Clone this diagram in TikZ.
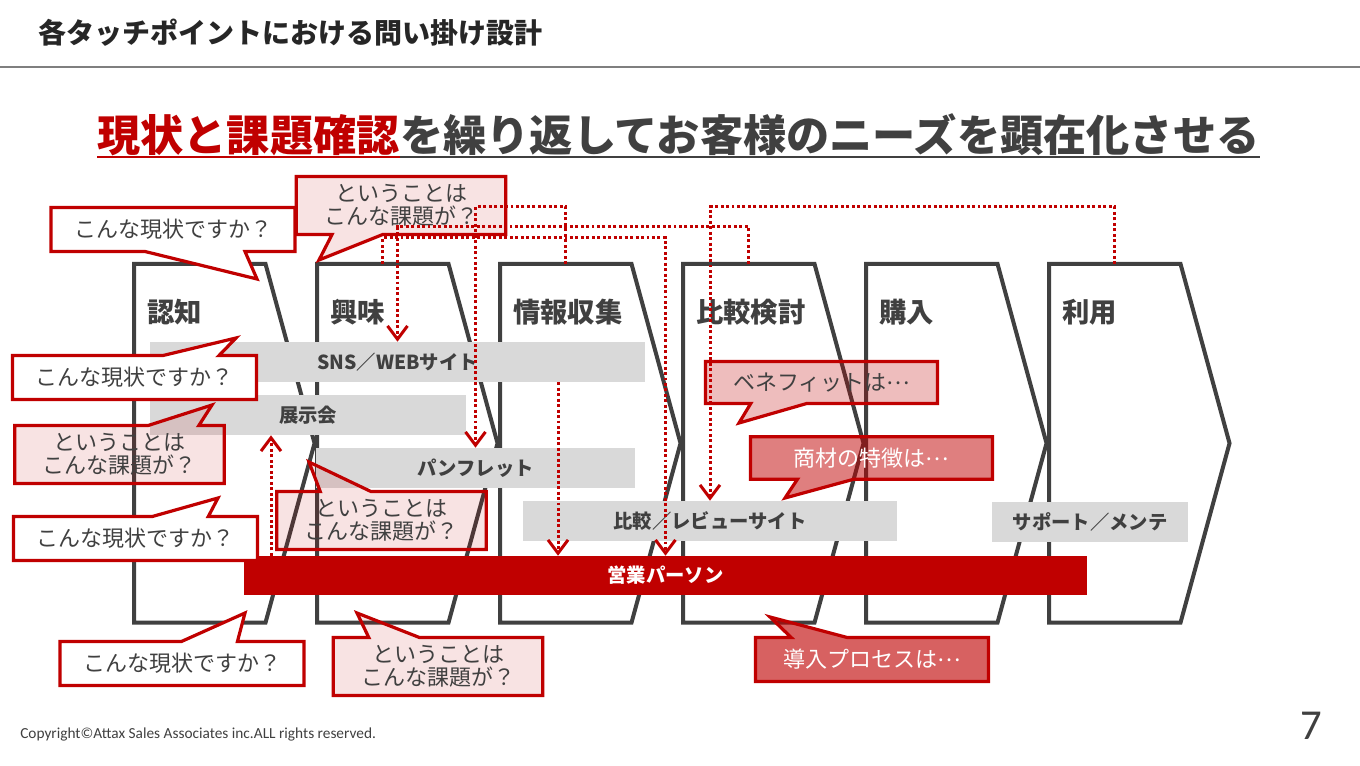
\documentclass[tikz,border=0pt]{standalone}
\usepackage{fontspec}
\setmainfont{Noto Sans CJK JP}
\newfontfamily\footfont{Carlito}
\usepackage{tikz}
\usetikzlibrary{positioning, arrows.meta, shapes.callouts}
\definecolor{accent}{HTML}{C00000}
\definecolor{ink}{HTML}{404040}
\definecolor{headink}{HTML}{262626}
\definecolor{rulegray}{HTML}{7F7F7F}
\definecolor{barfill}{HTML}{D9D9D9}
\newcommand{\middots}{\raisebox{.28em}{…}}
\tikzset{
  stage/.style={
    rectangle,
    minimum width=98.25pt,
    minimum height=268.5pt,
    inner sep=0pt
  },
  stage line/.style={
    draw=ink,
    line width=3pt,
    line join=miter
  },
  stage label/.style={
    inner sep=0pt,
    font=\fontsize{20.5}{24}\selectfont\bfseries,
    text=ink
  },
  touch bar/.style={
    fill=barfill,
    minimum height=30pt,
    inner sep=0pt,
    font=\fontsize{14.5}{17}\selectfont\bfseries,
    text=ink
  },
  sales bar/.style={
    touch bar,
    fill=accent,
    minimum height=29.25pt,
    text=white
  },
  ask box/.style={
    rectangle callout,
    draw=accent,
    line width=2.4pt,
    inner sep=0pt,
    align=center,
    text=ink,
    font=\fontsize{16.5}{17}\selectfont,
    callout pointer width=42pt
  },
  now ask/.style={
    ask box, fill=white,
    minimum width=183pt, minimum height=33pt
  },
  issue ask/.style={
    ask box, fill=accent, fill opacity=0.11, text opacity=1,
    minimum width=157pt, minimum height=43.5pt,
    callout pointer width=38pt
  },
  point ask/.style={
    ask box, fill=accent, fill opacity=#1, text opacity=1,
    minimum height=32pt
  },
  probe/.style={
    draw=accent,
    line width=2.25pt,
    dash pattern=on 2.2pt off 1.9pt,
    -{Straight Barb[length=10pt, width=15pt]}
  }
}

\begin{document}
\begin{tikzpicture}[x=0.75pt, y=-0.75pt]
  \useasboundingbox[fill=white] (0,0) rectangle (1360,766);

  % header
  \node[anchor=west, inner sep=0pt, font=\fontsize{21}{24}\selectfont\bfseries, text=headink] (title) at (38,33) {各タッチポイントにおける問い掛け設計};
  \coordinate (ruleL) at (0,67);
  \coordinate (ruleR) at (1360,67);
  \draw[rulegray, line width=1.5pt] (ruleL) -- (ruleR);

  % headline
  \node[anchor=west, inner sep=0pt, font=\fontsize{32.4}{36}\selectfont\bfseries, text=accent] (headred) at (97,135) {現状と課題確認};
  \node[right=0pt of headred, inner sep=0pt, font=\fontsize{32.4}{36}\selectfont\bfseries, text=ink] (headrest) {を繰り返してお客様のニーズを顕在化させる};
  \coordinate (uline) at (0,157);
  \draw[accent, line width=1.5pt] (headred.west |- uline) -- (headred.east |- uline);
  \draw[ink, line width=1.5pt] (headrest.west |- uline) -- (headrest.east |- uline);

  % stages
  \node[stage, anchor=north west] (s1) at (134,264) {};
  \foreach \i [count=\j from 2] in {1,...,5}
    \node[stage, right=38.6pt of s\i] (s\j) {};
  \foreach \i/\name in {1/認知, 2/興味, 3/情報収集, 4/比較検討, 5/購入, 6/利用} {
    \draw[stage line] (s\i.north west) -- (s\i.north east) -- ([xshift=36.75pt]s\i.east) -- (s\i.south east) -- (s\i.south west) -- cycle;
    \node[stage label, anchor=west] (t\i) at ([shift={(13,48)}]s\i.north west) {\name};
  }

  % touch points
  \node[touch bar, minimum width=371.25pt] (sns) at (397.5,362) {SNS／WEBサイト};
  \node[touch bar, minimum width=237pt] (expo) at (308,415) {展示会};
  \node[touch bar, minimum width=239.25pt] (pamph) at (475.5,468) {パンフレット};
  \node[touch bar, minimum width=280.5pt] (review) at (710,521) {比較／レビューサイト};
  \node[touch bar, minimum width=147pt] (support) at (1090,522) {サポート／メンテ};
  \node[sales bar, minimum width=632.25pt] (sales) at (665.5,575.5) {営業パーソン};

  % questions
  \node[now ask, callout absolute pointer={(257,279)}, callout pointer width=75pt] (now1) at (173,229.5) {こんな現状ですか？};
  \node[issue ask, callout absolute pointer={(319,260)}] (issue1) at (401,205.5) {ということは\\こんな課題が？};
  \node[now ask, callout absolute pointer={(236,338)}] (now2) at (134.5,377.5) {こんな現状ですか？};
  \node[issue ask, callout absolute pointer={(212,405)}] (issue2) at (119.5,454.5) {ということは\\こんな課題が？};
  \node[now ask, callout absolute pointer={(218,498)}] (now3) at (135.5,538.5) {こんな現状ですか？};
  \node[issue ask, callout absolute pointer={(309,462)}] (issue3) at (381.5,520.5) {ということは\\こんな課題が？};
  \node[now ask, callout absolute pointer={(245,613)}] (now4) at (182,663.5) {こんな現状ですか？};
  \node[issue ask, callout absolute pointer={(357,613)}] (issue4) at (438,666.5) {ということは\\こんな課題が？};
  \node[point ask=0.26, minimum width=174pt, minimum height=31.5pt, callout absolute pointer={(739,423)}] (benefit) at (821.5,382.5) {ベネフィットは\middots};
  \node[point ask=0.5, text=white, minimum width=181.5pt, callout absolute pointer={(785,498)}] (feature) at (871.5,458) {商材の特徴は\middots};
  \node[point ask=0.62, text=white, minimum width=174.75pt, minimum height=33pt, callout absolute pointer={(770,617)}] (process) at (872,659.5) {導入プロセスは\middots};

  % probes
  \draw[probe] (s3.north) -- ++(0,-57) -| (pamph.north);
  \draw[probe] (s4.north) -- ++(0,-37) -| (sns.north);
  \draw[probe] (s2.north) -- ++(0,-26) -| (sales.north);
  \draw[probe] (s6.north) -- ++(0,-57) -| (review.north);
  \coordinate (snsfoot) at ([xshift=120.4pt]sns.south);
  \draw[probe] (snsfoot) -- (snsfoot |- sales.north);
  \coordinate (expofoot) at ([xshift=-27.75pt]expo.south);
  \draw[probe] (expofoot |- sales.north) -- (expofoot);

  % footer
  \node[anchor=west, inner sep=0pt, font=\footfont\fontsize{11.5}{13}\selectfont, text=ink] (copy) at (20,734) {Copyright©Attax Sales Associates inc.ALL rights reserved.};
  \node[inner sep=0pt, font=\footfont\fontsize{32}{36}\selectfont, text=ink] (page) at (1311,726) {7};
\end{tikzpicture}
\end{document}
